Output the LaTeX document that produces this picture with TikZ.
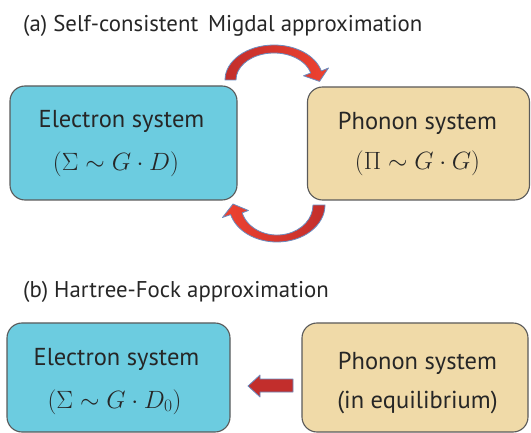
\RequirePackage{fix-cm}
\documentclass[tikz,border=0pt]{standalone}
\usepackage[no-math]{fontspec}
\setmainfont{PT Sans}
\definecolor{eblue}{HTML}{6CCCE0}
\definecolor{ptan}{HTML}{F0DAA8}
\definecolor{boxline}{HTML}{5A5A5A}
\definecolor{darkred}{HTML}{C22E2C}
\definecolor{brightred}{HTML}{EE4230}
\definecolor{arrline}{HTML}{6A8CC0}
\tikzset{
  sysbox/.style={draw=boxline, line width=1.1pt, rounded corners=15pt, inner sep=0pt},
  lbl/.style={anchor=base, inner sep=0pt, font=\fontsize{24.5}{28}\selectfont, text=black!85},
  mlbl/.style={anchor=base, inner sep=0pt, font=\fontsize{25}{29}\selectfont, text=black!85},
  ttl/.style={anchor=base west, inner sep=0pt, font=\fontsize{22.8}{27}\selectfont, text=black!85},
  barrow/.style={draw=arrline, line width=0.8pt, line join=round},
}
\begin{document}
\begin{tikzpicture}[x=1pt,y=-1pt]
\useasboundingbox (0,0) rectangle (531,433);
% titles
\node[ttl] (ta) at (23,32) {(a) Self-consistent\, Migdal approximation};
\node[ttl] (tb) at (23,298) {(b) Hartree-Fock approximation};
% boxes (a)
\node[sysbox, fill=eblue, minimum width=227pt, minimum height=114pt] (ea) at (123.5,143) {};
\node[sysbox, fill=ptan, minimum width=222pt, minimum height=113pt] (pa) at (418.5,143.5) {};
\node[lbl] (ea1) at (121.5,128) {Electron system};
\node[mlbl] (ea2) at (116,170.5) {$(\Sigma\sim G\cdot D)$};
\node[lbl] (pa1) at (417.5,130) {Phonon system};
\node[mlbl] (pa2) at (417.5,170) {$(\Pi\sim G\cdot G)$};
% boxes (b)
\node[sysbox, fill=eblue, minimum width=223pt, minimum height=109pt] (eb) at (118.5,377.5) {};
\node[sysbox, fill=ptan, minimum width=226pt, minimum height=109pt] (pb) at (415,377.5) {};
\node[lbl] (eb1) at (116.5,366) {Electron system};
\node[mlbl] (eb2) at (114.5,408) {$(\Sigma\sim G\cdot D_0)$};
\node[lbl] (pb1) at (417.5,370) {Phonon system};
\node[lbl] (pb2) at (417.5,408) {(in equilibrium)};
% top curved arrow (electron -> phonon)
\path[barrow, left color=darkred, right color=brightred]
  (225,80) arc[start angle=180, end angle=345, x radius=49, y radius=35]
  -- (328.5,68) -- (319.5,81.4) -- (303.5,75.8) -- (310.7,73.0)
  arc[start angle=345, end angle=180, x radius=38, y radius=27] -- cycle;
% bottom curved arrow (phonon -> electron)
\path[barrow, left color=brightred, right color=darkred]
  (325,205) arc[start angle=0, end angle=165, x radius=48, y radius=37]
  -- (222.5,217.5) -- (233,204) -- (248.5,210.5) -- (242.2,212.8)
  arc[start angle=165, end angle=0, x radius=36, y radius=30] -- cycle;
% straight arrow (b)
\path[barrow, fill=darkred]
  (293,379) -- (260,379) -- (260,375) -- (248,386) -- (260,397) -- (260,392) -- (293,392) -- cycle;
\end{tikzpicture}
\end{document}
